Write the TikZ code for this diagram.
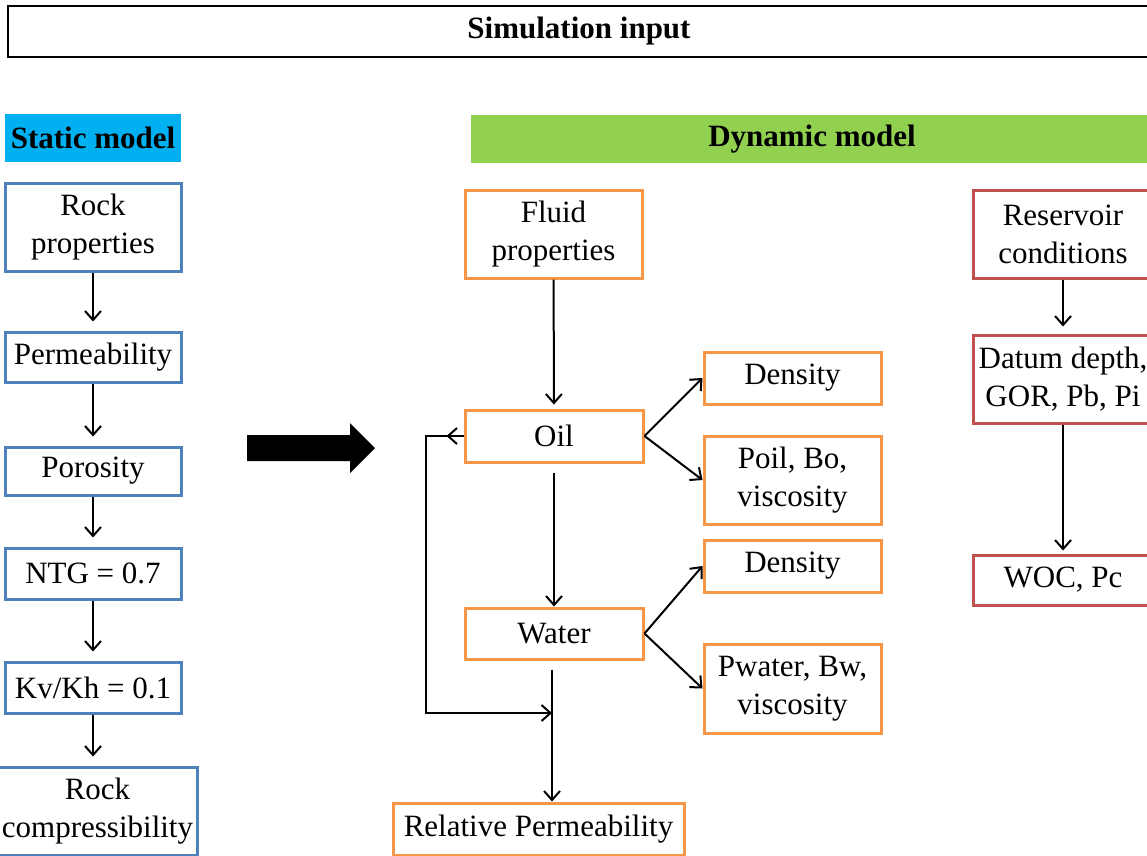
\documentclass[tikz,border=0pt]{standalone}
\usepackage{fontspec}
\setmainfont{Liberation Serif}
\usetikzlibrary{arrows.meta}
\definecolor{hdrcyan}{RGB}{0,176,240}
\definecolor{hdrgreen}{RGB}{146,208,80}
\definecolor{statblue}{RGB}{79,129,189}
\definecolor{dynorange}{RGB}{247,150,70}
\definecolor{resred}{RGB}{192,80,77}
\begin{document}
\begin{tikzpicture}[x=1pt,y=-1pt,
 every node/.style={font=\fontsize{31}{38}\selectfont,align=center,inner sep=0pt},
 hdr/.style={font=\fontsize{31}{38}\selectfont\bfseries,minimum height=48pt},
 sbox/.style={draw=statblue,line width=3pt,minimum width=176pt},
 obox/.style={draw=dynorange,line width=3pt,minimum width=177pt},
 rbox/.style={draw=resred,line width=3pt,minimum width=180pt},
 conn/.style={line width=2pt,-{Straight Barb[length=9pt,width=16pt,line width=2pt]}}]
\useasboundingbox (0,0) rectangle (1147,855);
\clip (0,0) rectangle (1147,855);
% title
\node[draw,line width=2pt,minimum width=1142pt,minimum height=51pt,
 font=\fontsize{31}{38}\selectfont\bfseries] (title) at (579,31.5) {Simulation input};
% static model
\node[hdr,fill=hdrcyan,minimum width=176pt] (static) at (93,138) {Static model};
\foreach \n/\y/\h/\t in {rock/227/88/{Rock\\properties},perm/357/50/Permeability,
 poro/471/48/Porosity,ntg/573.5/51/{NTG = 0.7},kvkh/687.5/51/{Kv/Kh = 0.1}}
 \node[sbox,minimum height=\h pt] (\n) at (93,\y) {\t};
\node[sbox,minimum width=199pt,minimum height=88pt] (comp) at (97.5,811) {Rock\\compressibility};
\foreach \a/\b in {rock/perm,perm/poro,poro/ntg,ntg/kvkh,kvkh/comp}
 \draw[conn,shorten >=9pt] (\a.south) -- (\a.south |- \b.north);
% big arrow
\fill (247,435) -- (350,435) -- (350,423) -- (375,448) -- (350,473) -- (350,461) -- (247,461) -- cycle;
% dynamic model
\node[hdr,fill=hdrgreen,minimum width=682pt] (dynamic) at (812,139) {Dynamic model};
\node[obox,minimum height=88pt] (fluid) at (553.5,234) {Fluid\\properties};
\node[obox,minimum width=178pt,minimum height=52pt] (oil) at (554,436) {Oil};
\node[obox,minimum width=178pt,minimum height=51pt] (water) at (554,633.5) {Water};
\foreach \n/\y/\h/\t in {dens1/378/52/Density,poil/480/88/{Poil, Bo,\\viscosity},
 dens2/566/52/Density,pwater/688.5/89/{Pwater, Bw,\\viscosity}}
 \node[obox,minimum height=\h pt] (\n) at (792.5,\y) {\t};
\node[obox,minimum width=291pt,minimum height=52pt] (relperm) at (538.5,829) {Relative Permeability};
\coordinate (jn) at (552,713);
\draw[conn,shorten >=4pt] (fluid) -- (oil);
\draw[conn] ([yshift=-9pt]oil.south) -- (water.north);
\draw[conn] (oil.east) -- (dens1.west);
\draw[conn] (oil.east) -- (poil.west);
\draw[conn] (water.east) -- (dens2.west);
\draw[conn] (water.east) -- (pwater.west);
\draw[conn] ([yshift=-9pt]water.south -| jn) -- (jn |- relperm.north);
\draw[conn] (oil.west) -- ++(-17,0);
\draw[conn] (oil.west) -- ++(-38,0) |- (jn);
% reservoir
\node[rbox,minimum height=88pt] (res) at (1063,234) {Reservoir\\conditions};
\node[rbox,minimum height=88pt] (datum) at (1063,379) {Datum depth,\\GOR, Pb, Pi};
\node[rbox,minimum height=50pt] (woc) at (1063,580) {WOC, Pc};
\draw[conn,shorten >=7pt] (res) -- (datum);
\draw[conn,shorten >=3pt] (datum) -- (woc);
\end{tikzpicture}
\end{document}
